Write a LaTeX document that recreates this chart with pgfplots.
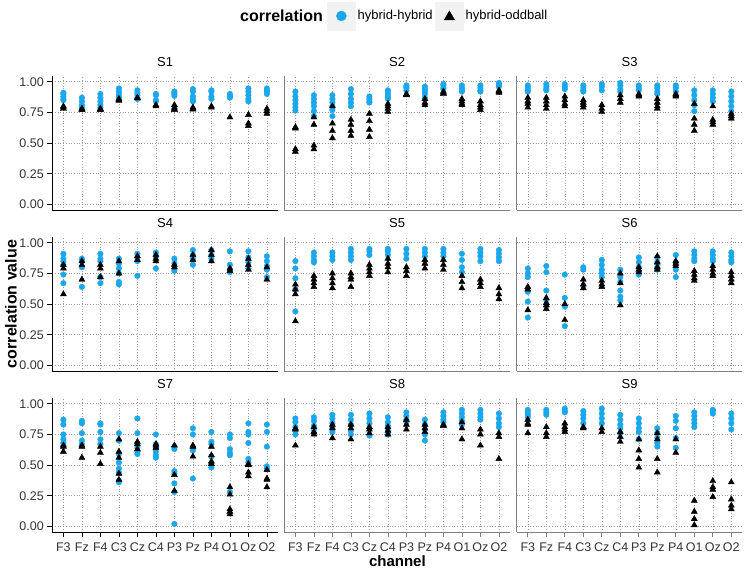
\documentclass[border=0pt]{standalone}
\usepackage{fontspec}
\setmainfont{Liberation Sans}
\usepackage{pgfplots}
\pgfplotsset{compat=1.18}
\definecolor{hbblue}{HTML}{1BA7EC}
\definecolor{keybg}{HTML}{F2F2F2}
\pgfplotsset{
 panel/.style={
  scale only axis, width=225.7pt, height=134.9pt, anchor=south west,
  xmin=-0.6, xmax=11.6, ymin=-0.05, ymax=1.05,
  axis x line*=bottom, axis y line*=left,
  axis line style={black!50, line width=0.8pt},
  xtick={0,...,11}, ytick={0,0.25,0.5,0.75,1},
  xticklabels={}, yticklabels={},
  grid=major, major grid style={gray!75, line width=0.6pt, dash pattern=on 0.7pt off 2pt},
  tick align=outside, major tick length=5pt,
  xtick style={draw=none}, ytick style={draw=none},
  title style={at={(0.5,1)}, anchor=center, yshift=8pt, font=\fontsize{13}{15}\selectfont},
  ticklabel style={font=\fontsize{12.5}{14}\selectfont, text=black!80},
  xticklabel style={yshift=-2pt},
 },
 leftcol/.style={axis line style={black}, ytick style={draw=black, line width=0.8pt}, yticklabels={0.00,0.25,0.50,0.75,1.00}},
 bottomrow/.style={xticklabels={F3,Fz,F4,C3,Cz,C4,P3,Pz,P4,O1,Oz,O2}, xtick style={draw=black!50, line width=0.8pt}},
 bottomleft/.style={leftcol, bottomrow, xtick style={draw=black, line width=0.8pt}},
 bluemk/.style={only marks, mark=*, mark size=2.8pt, color=hbblue, mark options={draw=none, fill=hbblue}, forget plot},
 blackmk/.style={only marks, mark=triangle*, mark size=3.5pt, color=black, mark options={draw=none, fill=black}, forget plot},
}
\newcommand\panel[6]{%
 \begin{axis}[panel, at={(#1)}, title={#2}, #3]
 \addplot[bluemk] coordinates {#4};
 \addplot[blackmk] coordinates {#5};
 #6
 \end{axis}}
\begin{document}
\begin{tikzpicture}
\useasboundingbox (0pt,0pt) rectangle (745pt,572pt);
% ---------------- S1
\panel{52.3pt,361.5pt}{S1}{leftcol, legend columns=-1, legend cell align=left,
 legend style={at={(1.217,1.442)}, anchor=west, draw=none, fill=none, inner sep=0pt, font=\fontsize{13}{15}\selectfont, /tikz/every even column/.append style={column sep=0.5pt}}}
{(0,.91)(0,.90)(0,.88)(0,.86)(0,.85)
 (1,.87)(1,.84)(1,.81)(1,.79)(1,.78)
 (2,.90)(2,.87)(2,.84)(2,.81)(2,.79)
 (3,.945)(3,.92)(3,.90)(3,.88)(3,.87)
 (4,.93)(4,.91)(4,.89)(4,.87)(4,.86)
 (5,.90)(5,.89)(5,.85)(5,.84)
 (6,.92)(6,.91)(6,.90)(6,.885)
 (7,.94)(7,.92)(7,.88)(7,.86)(7,.84)
 (8,.93)(8,.92)(8,.88)(8,.86)
 (9,.90)(9,.89)(9,.88)(9,.87)
 (10,.945)(10,.92)(10,.89)(10,.86)(10,.84)
 (11,.945)(11,.93)(11,.92)(11,.90)}
{(0,.80)(0,.79)(0,.78)(1,.78)(1,.775)(1,.77)(2,.78)(2,.775)(2,.77)
 (3,.86)(3,.85)(3,.845)(4,.87)(4,.865)(5,.81)(5,.80)
 (6,.81)(6,.79)(6,.78)(6,.77)(7,.79)(7,.78)(7,.775)(8,.80)(8,.79)
 (9,.71)(10,.73)(10,.66)(10,.64)(11,.78)(11,.76)(11,.74)}
{\addlegendimage{legend image code/.code={\fill[keybg] (0pt,-14pt) rectangle (28pt,14pt); \draw[only marks, mark=*, mark size=5pt, hbblue, mark options={draw=none, fill=hbblue}] plot coordinates {(14pt,0pt)};}}
 \addlegendentry{hybrid-hybrid}
 \addlegendimage{legend image code/.code={\fill[keybg] (0pt,-14pt) rectangle (28pt,14pt); \draw[only marks, mark=triangle*, mark size=6pt, black, mark options={draw=none, fill=black}] plot coordinates {(14pt,-1pt)};}}
 \addlegendentry{hybrid-oddball}}
% ---------------- S2
\panel{284.3pt,361.5pt}{S2}{}
{(0,.92)(0,.88)(0,.85)(0,.82)(0,.79)(0,.765)
 (1,.89)(1,.86)(1,.83)(1,.80)(1,.76)(1,.72)
 (2,.89)(2,.86)(2,.83)(2,.80)(2,.77)(2,.72)
 (3,.94)(3,.90)(3,.86)(3,.83)(3,.80)
 (4,.88)(4,.86)(4,.84)(4,.83)
 (5,.93)(5,.91)(5,.89)(5,.87)(5,.86)
 (6,.97)(6,.96)(6,.95)(6,.93)
 (7,.96)(7,.94)(7,.92)(7,.90)(7,.87)
 (8,.98)(8,.97)(8,.95)(8,.94)
 (9,.97)(9,.95)(9,.93)(9,.92)
 (10,.97)(10,.95)(10,.93)(10,.92)
 (11,.99)(11,.98)(11,.97)(11,.96)}
{(0,.63)(0,.62)(0,.45)(0,.43)(1,.71)(1,.65)(1,.48)(1,.45)
 (2,.80)(2,.66)(2,.60)(2,.54)(3,.69)(3,.65)(3,.60)(3,.56)
 (4,.74)(4,.68)(4,.61)(4,.55)(5,.82)(5,.80)(5,.78)(5,.755)
 (6,.90)(6,.895)(6,.89)(7,.86)(7,.83)(7,.81)(8,.92)(8,.91)(8,.90)
 (9,.86)(9,.84)(9,.82)(9,.81)(10,.84)(10,.81)(10,.79)(10,.77)
 (11,.93)(11,.92)(11,.91)}{}
% ---------------- S3
\panel{516.7pt,361.5pt}{S3}{}
{(0,.97)(0,.95)(0,.93)(0,.92)
 (1,.98)(1,.96)(1,.94)(1,.93)
 (2,.98)(2,.96)(2,.94)
 (3,.97)(3,.95)(3,.93)(3,.92)
 (4,.98)(4,.96)(4,.93)
 (5,.99)(5,.97)(5,.94)(5,.92)
 (6,.97)(6,.95)(6,.93)
 (7,.97)(7,.95)(7,.92)(7,.90)
 (8,.97)(8,.95)(8,.92)
 (9,.93)(9,.89)(9,.85)(9,.81)(9,.76)
 (10,.93)(10,.90)(10,.87)(10,.84)
 (11,.92)(11,.88)(11,.84)(11,.80)(11,.76)}
{(0,.87)(0,.84)(0,.82)(0,.79)(1,.87)(1,.84)(1,.81)(1,.78)
 (2,.88)(2,.85)(2,.82)(2,.80)(3,.85)(3,.83)(3,.81)(3,.79)
 (4,.81)(4,.78)(4,.755)(5,.89)(5,.86)(5,.83)
 (6,.90)(6,.89)(6,.88)(7,.86)(7,.83)(7,.80)(7,.78)(8,.90)(8,.89)(8,.88)
 (9,.82)(9,.70)(9,.65)(9,.60)(10,.80)(10,.69)(10,.67)(10,.65)
 (11,.74)(11,.72)(11,.70)}{}
% ---------------- S4
\panel{52.3pt,200.5pt}{S4}{leftcol}
{(0,.91)(0,.87)(0,.85)(0,.82)(0,.74)(0,.67)
 (1,.87)(1,.85)(1,.80)(1,.64)
 (2,.91)(2,.87)(2,.85)(2,.72)(2,.67)
 (3,.87)(3,.83)(3,.79)(3,.75)(3,.68)(3,.66)
 (4,.91)(4,.88)(4,.85)(4,.73)
 (5,.92)(5,.89)(5,.79)
 (6,.87)(6,.83)(6,.77)
 (7,.94)(7,.90)(7,.87)(7,.82)
 (8,.94)(8,.90)(8,.87)
 (9,.93)(9,.82)(9,.78)(9,.76)
 (10,.93)(10,.88)(10,.84)(10,.79)
 (11,.89)(11,.85)(11,.81)(11,.78)(11,.72)}
{(0,.82)(0,.79)(0,.58)(1,.85)(1,.82)(1,.70)(2,.82)(2,.79)(2,.72)
 (3,.85)(3,.75)(4,.89)(4,.86)(5,.90)(5,.87)(5,.85)(6,.82)(6,.80)
 (7,.90)(7,.86)(8,.94)(8,.90)(8,.85)(9,.79)(9,.77)
 (10,.87)(10,.82)(10,.78)(11,.80)(11,.70)}{}
% ---------------- S5
\panel{284.3pt,200.5pt}{S5}{}
{(0,.85)(0,.79)(0,.71)(0,.62)(0,.44)
 (1,.92)(1,.89)(1,.86)(1,.84)
 (2,.92)(2,.89)(2,.86)
 (3,.95)(3,.92)(3,.89)(3,.86)
 (4,.95)(4,.93)(4,.90)
 (5,.95)(5,.93)(5,.90)
 (6,.95)(6,.91)(6,.87)
 (7,.95)(7,.92)(7,.89)
 (8,.95)(8,.92)(8,.89)
 (9,.91)(9,.86)(9,.80)(9,.76)
 (10,.95)(10,.92)(10,.89)(10,.85)
 (11,.94)(11,.91)(11,.88)(11,.85)}
{(0,.66)(0,.62)(0,.58)(0,.36)(1,.73)(1,.70)(1,.67)(1,.64)
 (2,.75)(2,.71)(2,.67)(2,.63)(3,.75)(3,.72)(3,.70)(3,.64)
 (4,.82)(4,.79)(4,.76)(4,.73)(5,.87)(5,.83)(5,.80)(5,.76)
 (6,.80)(6,.77)(6,.73)(7,.86)(7,.83)(7,.79)(8,.86)(8,.82)(8,.78)
 (9,.73)(9,.68)(9,.63)(10,.70)(10,.67)(10,.64)(11,.63)(11,.58)(11,.54)}{}
% ---------------- S6
\panel{516.7pt,200.5pt}{S6}{}
{(0,.79)(0,.75)(0,.72)(0,.60)(0,.52)(0,.39)
 (1,.81)(1,.76)(1,.61)(1,.53)(1,.48)
 (2,.74)(2,.55)(2,.48)(2,.32)
 (3,.80)(3,.78)(3,.65)
 (4,.86)(4,.82)(4,.78)(4,.75)(4,.72)
 (5,.78)(5,.72)(5,.68)(5,.61)(5,.56)(5,.53)
 (6,.88)(6,.84)(6,.80)(6,.76)(6,.74)
 (7,.88)(7,.84)(7,.80)(7,.78)
 (8,.90)(8,.84)(8,.78)(8,.72)
 (9,.93)(9,.90)(9,.87)(9,.85)
 (10,.93)(10,.90)(10,.87)(10,.85)
 (11,.92)(11,.89)(11,.86)(11,.84)}
{(0,.64)(0,.62)(0,.45)(1,.55)(1,.51)(1,.49)(1,.46)(2,.50)(2,.37)
 (3,.70)(3,.66)(3,.63)(4,.69)(4,.66)(4,.64)(5,.75)(5,.67)(5,.49)
 (6,.80)(6,.78)(6,.76)(7,.89)(7,.84)(7,.80)(7,.78)(8,.85)(8,.83)(8,.81)
 (9,.77)(9,.74)(9,.71)(9,.69)(10,.81)(10,.78)(10,.75)(10,.73)
 (11,.76)(11,.73)(11,.70)(11,.67)}{}
% ---------------- S7
\panel{52.3pt,39.5pt}{S7}{bottomleft}
{(0,.87)(0,.83)(0,.75)(0,.71)(0,.68)(0,.66)
 (1,.86)(1,.84)(1,.76)(1,.70)(1,.67)
 (2,.84)(2,.83)(2,.77)(2,.71)(2,.67)
 (3,.76)(3,.70)(3,.59)(3,.52)(3,.47)(3,.44)(3,.37)(3,.36)
 (4,.88)(4,.76)(4,.67)(4,.64)(4,.61)(4,.59)
 (5,.75)(5,.67)(5,.64)(5,.61)(5,.58)(5,.56)
 (6,.65)(6,.63)(6,.45)(6,.43)(6,.35)(6,.28)(6,.02)
 (7,.80)(7,.75)(7,.64)(7,.62)(7,.39)
 (8,.77)(8,.69)(8,.67)(8,.57)(8,.51)(8,.48)
 (9,.75)(9,.72)(9,.63)(9,.60)(9,.58)(9,.28)
 (10,.84)(10,.77)(10,.75)(10,.68)(10,.55)(10,.52)
 (11,.83)(11,.77)(11,.65)(11,.49)(11,.47)}
{(0,.66)(0,.65)(0,.61)(1,.66)(1,.65)(1,.56)(2,.65)(2,.60)(2,.51)
 (3,.71)(3,.61)(3,.56)(3,.43)(3,.38)(4,.69)(4,.67)(4,.63)(5,.67)(5,.66)(5,.64)
 (6,.66)(6,.42)(6,.29)(7,.66)(7,.65)(7,.57)(8,.65)(8,.58)(8,.53)(8,.51)
 (9,.32)(9,.26)(9,.14)(9,.12)(9,.10)(10,.51)(10,.50)(10,.44)(10,.41)
 (11,.46)(11,.39)(11,.38)(11,.32)}{}
% ---------------- S8
\panel{284.3pt,39.5pt}{S8}{bottomrow}
{(0,.88)(0,.85)(0,.81)(0,.78)(0,.75)
 (1,.89)(1,.86)(1,.82)(1,.79)(1,.76)
 (2,.91)(2,.88)(2,.84)(2,.80)(2,.77)
 (3,.91)(3,.87)(3,.83)(3,.78)(3,.75)
 (4,.92)(4,.88)(4,.84)(4,.80)(4,.74)
 (5,.89)(5,.85)(5,.82)(5,.78)(5,.75)
 (6,.93)(6,.90)(6,.87)(6,.85)
 (7,.87)(7,.83)(7,.79)(7,.75)(7,.70)
 (8,.93)(8,.90)(8,.87)(8,.85)
 (9,.95)(9,.92)(9,.89)(9,.86)(9,.83)
 (10,.95)(10,.92)(10,.89)(10,.87)
 (11,.92)(11,.88)(11,.84)(11,.81)}
{(0,.80)(0,.79)(0,.66)(1,.81)(1,.77)(1,.75)(2,.83)(2,.80)(2,.72)
 (3,.83)(3,.80)(3,.71)(4,.81)(4,.79)(4,.76)(5,.81)(5,.78)(5,.75)
 (6,.87)(6,.83)(6,.79)(7,.83)(7,.80)(7,.77)(8,.83)(8,.82)
 (9,.85)(9,.80)(9,.71)(10,.79)(10,.75)(10,.66)(11,.76)(11,.73)(11,.55)}{}
% ---------------- S9
\panel{516.7pt,39.5pt}{S9}{bottomrow}
{(0,.95)(0,.93)(0,.91)(0,.89)
 (1,.95)(1,.93)(1,.91)
 (2,.96)(2,.94)(2,.93)
 (3,.94)(3,.91)(3,.88)(3,.84)
 (4,.96)(4,.92)(4,.88)(4,.84)
 (5,.91)(5,.87)(5,.83)(5,.80)(5,.76)
 (6,.88)(6,.84)(6,.80)(6,.77)(6,.71)
 (7,.80)(7,.76)(7,.72)(7,.68)(7,.65)
 (8,.90)(8,.86)(8,.80)(8,.72)(8,.64)
 (9,.93)(9,.90)(9,.87)(9,.84)(9,.81)
 (10,.95)(10,.94)(10,.92)
 (11,.92)(11,.88)(11,.84)(11,.79)}
{(0,.87)(0,.84)(0,.83)(0,.76)(1,.81)(1,.76)(1,.73)(2,.84)(2,.81)(2,.79)(2,.77)
 (3,.81)(3,.80)(4,.80)(4,.77)(5,.77)(5,.73)(5,.69)
 (6,.71)(6,.62)(6,.55)(6,.48)(7,.76)(7,.71)(7,.55)(7,.44)(8,.71)(8,.60)
 (9,.21)(9,.12)(9,.06)(9,.01)(10,.37)(10,.32)(10,.30)(10,.24)
 (11,.36)(11,.22)(11,.17)(11,.14)}{}
% ---------------- labels
\node[anchor=west, inner sep=0pt, font=\bfseries\fontsize{16}{18}\selectfont] at (240pt,556pt) {correlation};
\node[rotate=90, inner sep=0pt, font=\bfseries\fontsize{16}{18}\selectfont] at (11pt,268pt) {correlation value};
\node[inner sep=0pt, font=\bfseries\fontsize{15}{17}\selectfont] at (397.4pt,10.5pt) {channel};
\end{tikzpicture}
\end{document}
